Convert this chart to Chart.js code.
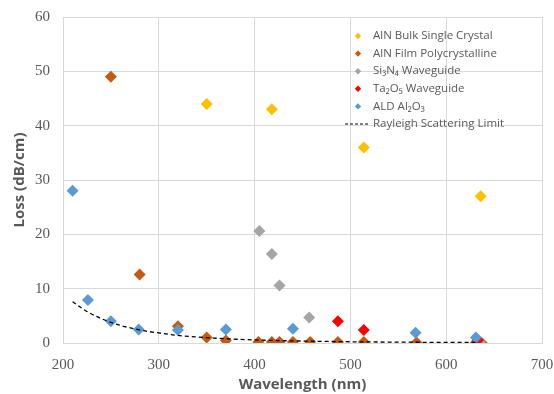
<!DOCTYPE html>
<html>
<head>
<meta charset="utf-8">
<script src="https://cdn.jsdelivr.net/npm/chart.js@4.4.1/dist/chart.umd.min.js"></script>
<style>
  html, body { margin: 0; padding: 0; background: #fff; }
  #wrap { width: 554px; height: 394px; }
</style>
</head>
<body>
<div id="wrap"><canvas id="lossChart"></canvas></div>
<script>
// values
const seriesNames = [
  "AlN Bulk Single Crystal",
  "AlN Film Polycrystalline",
  "Si\u2083N\u2084 Waveguide",
  "Ta\u2082O\u2085 Waveguide",
  "ALD Al\u2082O\u2083",
  "Rayleigh Scattering Limit"
];

const bulkWl = [350, 418, 514, 636];
const bulkLoss = [44, 43, 36, 27];

const filmWl = [250, 280, 320, 350, 370, 404, 418, 426, 440, 458, 487, 514, 569, 631, 637];
const filmLoss = [49, 12.6, 3.1, 1.0, 0.45, 0.2, 0.2, 0.2, 0.2, 0.2, 0.2, 0.2, 0.1, 0.1, 0.05];

const siWl = [405, 418, 426, 457, 635];
const siLoss = [20.6, 16.4, 10.6, 4.7, 0.2];

const taWl = [487, 514, 633];
const taLoss = [4.0, 2.4, 0.5];

const aldWl = [210, 226, 250, 279, 320, 370, 440, 568, 631];
const aldLoss = [28, 7.9, 4.0, 2.5, 2.4, 2.5, 2.6, 1.9, 1.0];

const rayWl = [210, 225, 250, 280, 300, 320, 350, 400, 450, 500, 550, 600, 633];
const rayLoss = [7.6, 5.8, 3.8, 2.4, 1.85, 1.4, 0.98, 0.57, 0.36, 0.23, 0.16, 0.11, 0.09];

const xTicks = [200, 300, 400, 500, 600, 700];
const yTicks = [0, 10, 20, 30, 40, 50, 60];

const colors = ["#FFC000", "#C55A11", "#A5A5A5", "#FF0000", "#5B9BD5", "#000000"];

function pts(xs, ys) {
  return xs.map((x, i) => ({ x: x, y: ys[i] }));
}

function scatterSet(i, xs, ys, order) {
  return {
    label: seriesNames[i],
    data: pts(xs, ys),
    showLine: false,
    pointStyle: "rectRot",
    pointRadius: 6,
    pointHoverRadius: 6,
    backgroundColor: colors[i],
    borderColor: colors[i],
    borderWidth: 0,
    order: order,
  };
}

// legend drawn inside the plot, like the Excel original
const insideLegend = {
  id: "insideLegend",
  afterDraw(chart) {
    const ctx = chart.ctx;
    const x0 = 358, y0 = 36, step = 17.6;
    ctx.save();
    ctx.font = "11.5px 'Open Sans'";
    ctx.textBaseline = "middle";
    seriesNames.forEach((name, i) => {
      const y = y0 + i * step;
      if (i < 5) {
        ctx.fillStyle = colors[i];
        ctx.beginPath();
        ctx.moveTo(x0, y - 3.2);
        ctx.lineTo(x0 + 3.2, y);
        ctx.lineTo(x0, y + 3.2);
        ctx.lineTo(x0 - 3.2, y);
        ctx.closePath();
        ctx.fill();
      } else {
        ctx.strokeStyle = "#000";
        ctx.lineWidth = 1.2;
        ctx.setLineDash([3, 2]);
        ctx.beginPath();
        ctx.moveTo(x0 - 13, y);
        ctx.lineTo(x0 + 11, y);
        ctx.stroke();
        ctx.setLineDash([]);
      }
      ctx.fillStyle = "#595959";
      ctx.fillText(name, x0 + 15, y);
    });
    ctx.restore();
  },
};

const ctx = document.getElementById("lossChart");

new Chart(ctx, {
  type: "scatter",
  data: {
    datasets: [
      scatterSet(0, bulkWl, bulkLoss, 5),
      scatterSet(1, filmWl, filmLoss, 4),
      scatterSet(2, siWl, siLoss, 3),
      scatterSet(3, taWl, taLoss, 2),
      scatterSet(4, aldWl, aldLoss, 1),
      {
        label: seriesNames[5],
        data: pts(rayWl, rayLoss),
        showLine: true,
        pointRadius: 0,
        borderColor: "#000",
        borderWidth: 1.3,
        borderDash: [4, 3],
        cubicInterpolationMode: "monotone",
        order: 0,
      },
    ],
  },
  options: {
    responsive: true,
    maintainAspectRatio: false,
    animation: false,
    layout: { padding: { top: 17, right: 12, left: 0, bottom: 0 } },
    plugins: {
      legend: { display: false },
      tooltip: { enabled: false },
    },
    scales: {
      x: {
        type: "linear",
        min: 200,
        max: 700,
        afterBuildTicks: (s) => { s.ticks = xTicks.map((v) => ({ value: v })); },
        afterFit: (s) => { s.height = 51; s.paddingLeft = 0; s.paddingRight = 0; },
        grid: { color: "#D9D9D9", drawTicks: false },
        border: { color: "#D9D9D9" },
        ticks: {
          color: "#595959",
          padding: 13,
          maxRotation: 0,
          font: { family: "'Liberation Serif'", size: 15 },
        },
        title: {
          display: true,
          text: "Wavelength (nm)",
          color: "#595959",
          padding: { top: 0, bottom: 0 },
          font: { family: "'Open Sans'", size: 15, weight: "bold" },
        },
      },
      y: {
        min: 0,
        max: 60,
        afterBuildTicks: (s) => { s.ticks = yTicks.map((v) => ({ value: v })); },
        afterFit: (s) => { s.width = 63; s.paddingTop = 0; s.paddingBottom = 0; },
        grid: { color: "#D9D9D9", drawTicks: false },
        border: { color: "#D9D9D9" },
        ticks: {
          color: "#595959",
          padding: 13,
          font: { family: "'Liberation Serif'", size: 15 },
        },
        title: {
          display: true,
          text: "Loss (dB/cm)",
          color: "#595959",
          padding: { top: 11, bottom: 0 },
          font: { family: "'Open Sans'", size: 15, weight: "bold" },
        },
      },
    },
  },
  plugins: [insideLegend],
});
</script>
</body>
</html>
